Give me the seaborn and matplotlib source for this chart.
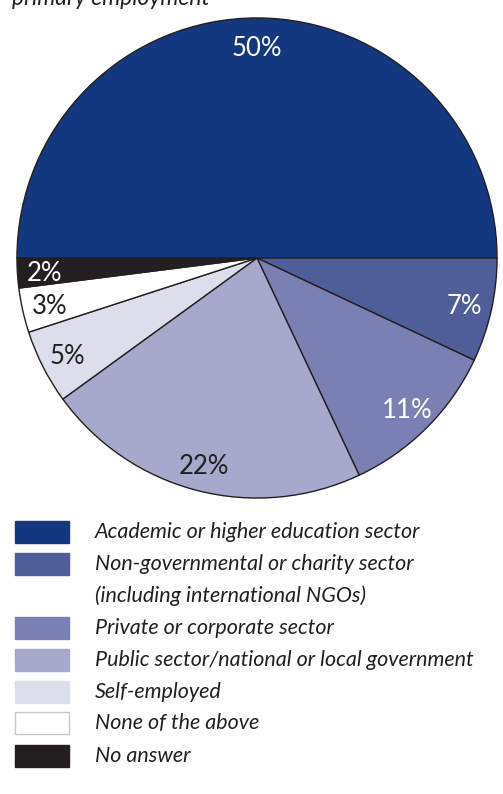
import matplotlib
matplotlib.use("Agg")
import matplotlib.pyplot as plt
import seaborn as sns
from matplotlib.patches import Rectangle

sns.set_theme(style="white")
plt.rcParams['font.family'] = ['Lato', 'DejaVu Sans']

categories = [
    "Academic or higher education sector",
    "Non-governmental or charity sector",
    "Private or corporate sector",
    "Public sector/national or local government",
    "Self-employed",
    "None of the above",
    "No answer",
]
category_note = "(including international NGOs)"
values = [50, 7, 11, 22, 5, 3, 2]
labels = ["50%", "7%", "11%", "22%", "5%", "3%", "2%"]
colors = ["#14387f", "#4f5e99", "#7a80b3", "#a6a9cc", "#dcdeec", "#ffffff", "#231f20"]
label_colors = ["white", "white", "white", "#231f20", "#231f20", "#231f20", "white"]
title = "primary employment"

W, H = 503, 794
fig = plt.figure(figsize=(W / 100, H / 100), dpi=100)
fig.patch.set_facecolor("white")
ink = "#231f20"

# Title (cut off at the top in the reference)
fig.text(12 / W, 1 + 12 / H, title, style="italic", fontsize=16.5, color=ink,
         ha="left", va="top")

# Pie
cx, cy, r = 257, 258, 241
ax = fig.add_axes([(cx - r) / W, 1 - (cy + r) / H, 2 * r / W, 2 * r / H])
wedges, texts = ax.pie(values, colors=colors, startangle=180, counterclock=False,
                       wedgeprops=dict(edgecolor=ink, linewidth=1.0),
                       labels=labels, labeldistance=0.885,
                       textprops=dict(fontsize=18.5))
for t, c in zip(texts, label_colors):
    t.set_color(c)
    t.set_ha("center")
    t.set_va("center_baseline")
lim = 1.004
ax.set_xlim(-lim, lim)
ax.set_ylim(-lim, lim)
ax.set_aspect("equal")
ax.axis("off")

# Legend
lax = fig.add_axes([0, 0, 1, 1])
lax.set_xlim(0, W)
lax.set_ylim(H, 0)
lax.axis("off")
row_y = [532, 564, 628, 660, 692, 723, 756]
tprops = dict(style="italic", fontsize=15.5, color=ink, ha="left", va="center")
for y, lab, col in zip(row_y, categories, colors):
    lax.add_patch(Rectangle((15, y - 11), 54, 22, facecolor=col,
                            edgecolor="#c8c8c8" if col == "#ffffff" else col, linewidth=1))
    lax.text(95, y, lab, **tprops)
lax.text(95, 596, category_note, **tprops)

fig.savefig("out.png", dpi=100)
